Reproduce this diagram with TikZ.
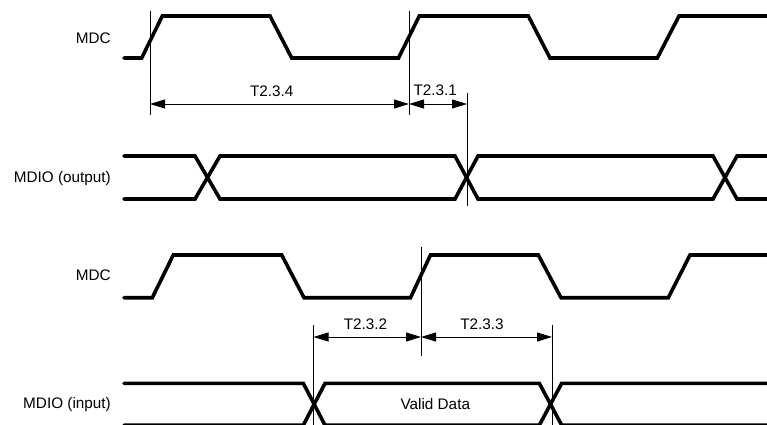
\documentclass[tikz,border=0pt]{standalone}
\usepackage{fontspec}
\setmainfont{Liberation Sans}
\usetikzlibrary{arrows.meta}
\begin{document}
\begin{tikzpicture}[x=1pt,y=-1pt,
  sig/.style={line width=3.6pt,line cap=round,line join=miter},
  mark line/.style={line width=1pt},
  dim/.style={line width=1pt,{Triangle[length=15pt,width=9pt]}-{Triangle[length=15pt,width=9pt]}},
  lbl/.style={font=\fontsize{15.3}{18}\selectfont,inner sep=0pt,anchor=east},
  tlbl/.style={font=\fontsize{15.3}{18}\selectfont,inner sep=0pt}]
\useasboundingbox (0,0) rectangle (767,424);
\fill[white] (0,0) rectangle (767,424);

% signal names
\node[lbl] (mdc1) at (111,38) {MDC};
\node[lbl] (mdo) at (111,179) {MDIO (output)};
\node[lbl] (mdc2) at (111,275) {MDC};
\node[lbl] (mdi) at (111,405) {MDIO (input)};

% top MDC
\draw[sig] (124,58) -- (141.7,58) -- (162.3,16) -- (270,16) -- (291.7,58) -- (398.5,58) -- (419.3,16) -- (528.3,16) -- (550,58) -- (657.3,58) -- (679,16) -- (768,16);

% MDIO output
\draw[sig] (124,156) -- (195,156) -- (220,199) -- (455,199) -- (478,156) -- (713,156) -- (737,199) -- (768,199);
\draw[sig] (124,199) -- (195,199) -- (220,156) -- (455,156) -- (478,199) -- (713,199) -- (737,156) -- (768,156);

% bottom MDC
\draw[sig] (124,297.7) -- (152.3,297.7) -- (173.3,255) -- (281.7,255) -- (304,297.7) -- (410.5,297.7) -- (430.5,255) -- (538.3,255) -- (561,297.7) -- (668.3,297.7) -- (690,255) -- (768,255);

% MDIO input
\draw[sig] (124,383.3) -- (303.3,383.3) -- (325,425.2) -- (539.3,425.2) -- (561.7,383.3) -- (768,383.3);
\draw[sig] (124,425.2) -- (303.3,425.2) -- (325,383.3) -- (539.3,383.3) -- (561.7,425.2) -- (768,425.2);

% reference lines
\coordinate (v1t) at (150,11); \coordinate (v1b) at (150,115);
\coordinate (v2t) at (409,11); \coordinate (v2b) at (409,115);
\coordinate (v3t) at (467,93); \coordinate (v3b) at (467,206);
\coordinate (v4t) at (421,247); \coordinate (v4b) at (421,356);
\coordinate (v5t) at (313.5,325); \coordinate (v5b) at (313.5,425);
\coordinate (v6t) at (552,325); \coordinate (v6b) at (552,425);
\draw[mark line] (v1t) -- (v1b);
\draw[mark line] (v2t) -- (v2b);
\draw[mark line] (v3t) -- (v3b);
\draw[mark line] (v4t) -- (v4b);
\draw[mark line] (v5t) -- (v5b);
\draw[mark line] (v6t) -- (v6b);

% dimension arrows
\coordinate (a1) at (150,104); \coordinate (a2) at (409,104); \coordinate (a3) at (467,104);
\coordinate (b1) at (313.5,337); \coordinate (b2) at (421,337); \coordinate (b3) at (552,337);
\draw[dim] (a1) -- (a2);
\draw[dim] (a2) -- (a3);
\draw[dim] (b1) -- (b2);
\draw[dim] (b2) -- (b3);

\node[tlbl] (t234) at (271.7,91) {T2.3.4};
\node[tlbl] (t231) at (435.3,90) {T2.3.1};
\node[tlbl] (t232) at (365.5,324) {T2.3.2};
\node[tlbl] (t233) at (482,324) {T2.3.3};
\node[tlbl] (vd) at (435.3,404) {Valid Data};
\end{tikzpicture}
\end{document}
